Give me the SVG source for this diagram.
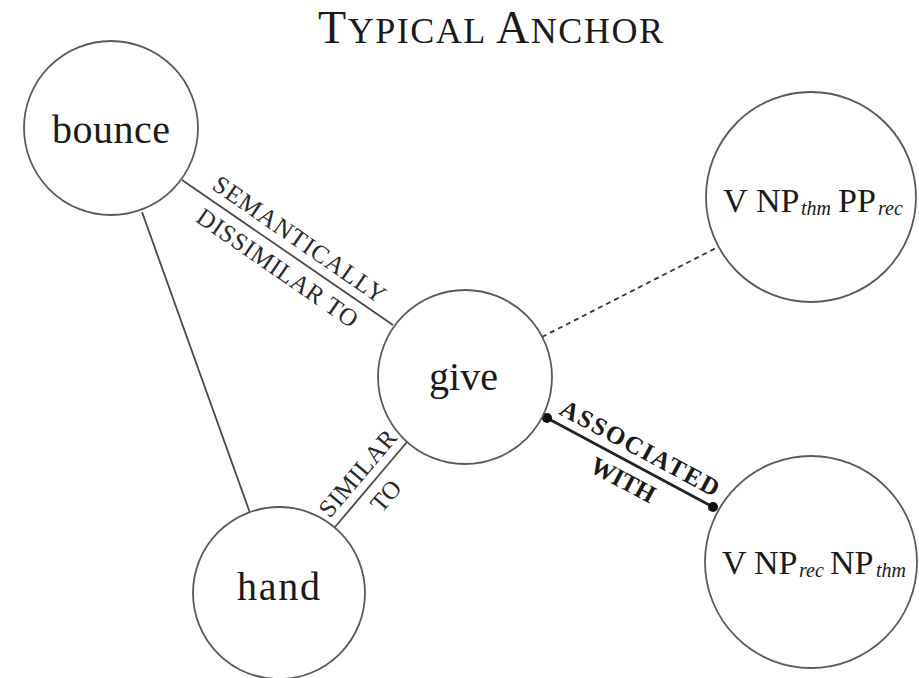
<svg xmlns="http://www.w3.org/2000/svg" width="919" height="678" viewBox="0 0 919 678">
  <style>
    .node { fill: #ffffff; stroke: #5a5a5a; stroke-width: 1.8; }
    .name { font-family: "Liberation Serif", "DejaVu Serif", serif; font-size: 40px; fill: #1a1a1a; text-anchor: middle; }
    .frame { font-family: "Liberation Serif", "DejaVu Serif", serif; font-size: 34px; fill: #1a1a1a; }
    .sub { font-style: italic; font-size: 20px; }
    .edge { stroke: #4a4a4a; stroke-width: 1.8; fill: none; }
    .dashed { stroke-dasharray: 5 4; stroke: #333; }
    .strong { stroke: #222; stroke-width: 2.6; }
    .lbl { font-family: "Liberation Serif", "DejaVu Serif", serif; font-size: 25px; fill: #2a2a2a; text-anchor: middle; }
    .bold { font-weight: bold; fill: #1a1a1a; }
    .title { font-family: "Liberation Serif", "DejaVu Serif", serif; fill: #1a1a1a; text-anchor: middle; }
  </style>

  <!-- heading in small caps -->
  <text class="title" x="490.5" y="43" textLength="345" lengthAdjust="spacing"><tspan font-size="46">T</tspan><tspan font-size="36">YPICAL </tspan><tspan font-size="46">A</tspan><tspan font-size="36">NCHOR</tspan></text>

  <!-- relations -->
  <g id="connectors">
    <line class="edge" x1="182" y1="180" x2="393" y2="325"/>
    <line class="edge" x1="142" y1="212" x2="250" y2="513"/>
    <line class="edge" x1="407" y1="442" x2="335" y2="527"/>
    <line class="edge dashed" x1="542" y1="337" x2="718" y2="247"/>
    <line class="edge strong" x1="547" y1="418" x2="713" y2="507"/>
    <circle cx="547" cy="418" r="5" fill="#111"/>
    <circle cx="713" cy="507" r="5" fill="#111"/>

    <g transform="translate(288 252.5) rotate(34.6)">
      <text class="lbl" x="2" y="-9" textLength="204" lengthAdjust="spacing">SEMANTICALLY</text>
      <text class="lbl" x="0" y="27" textLength="190" lengthAdjust="spacing">DISSIMILAR TO</text>
    </g>
    <g transform="translate(371 484.5) rotate(-49.7)">
      <text class="lbl" x="0" y="-9" textLength="106" lengthAdjust="spacing">SIMILAR</text>
      <text class="lbl" x="1" y="27">TO</text>
    </g>
    <g transform="translate(630 462.5) rotate(28.2)">
      <text class="lbl bold" x="2" y="-9" textLength="177" lengthAdjust="spacing">ASSOCIATED</text>
      <text class="lbl bold" x="2" y="27" textLength="70" lengthAdjust="spacing">WITH</text>
    </g>
  </g>

  <g id="bounce">
    <circle class="node" cx="111" cy="128" r="87"/>
    <text class="name" x="111" y="143" textLength="118" lengthAdjust="spacing">bounce</text>
  </g>

  <g id="give">
    <circle class="node" cx="465" cy="377" r="87"/>
    <text class="name" x="463.5" y="390">give</text>
  </g>

  <g id="hand">
    <circle class="node" cx="279" cy="593" r="86"/>
    <text class="name" x="278.5" y="600" textLength="83" lengthAdjust="spacing">hand</text>
  </g>

  <g id="v-np-pp">
    <circle class="node" cx="811" cy="197" r="105"/>
    <text class="frame" y="212"><tspan x="723">V</tspan><tspan x="756">NP</tspan><tspan class="sub" x="801" y="215">thm</tspan><tspan x="838" y="212">PP</tspan><tspan class="sub" x="878" y="215">rec</tspan></text>
  </g>

  <g id="v-np-np">
    <circle class="node" cx="811" cy="562" r="106"/>
    <text class="frame" y="574"><tspan x="722">V</tspan><tspan x="754">NP</tspan><tspan class="sub" x="799" y="577">rec</tspan><tspan x="830" y="574">NP</tspan><tspan class="sub" x="876" y="577">thm</tspan></text>
  </g>
</svg>
